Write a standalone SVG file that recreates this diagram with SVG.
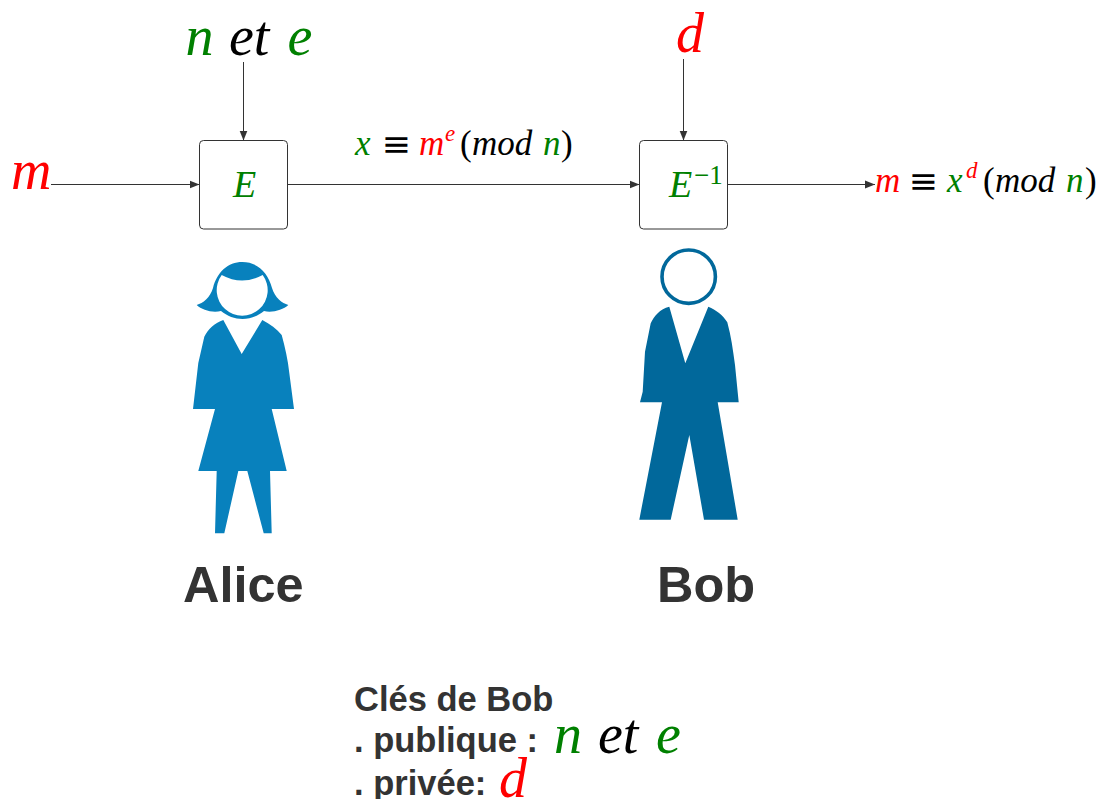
<svg xmlns="http://www.w3.org/2000/svg" width="1103" height="799" viewBox="0 0 1103 799">
<style>
.m{font-family:"Liberation Serif","Times New Roman",serif;font-style:italic}
.u{font-family:"Liberation Serif","Times New Roman",serif}
.q{font-family:"DejaVu Sans",sans-serif;fill:#000}
.r{fill:#ff0000}.g{fill:#008000}.k{fill:#000}
.b{font-family:"Liberation Sans",Arial,sans-serif;font-weight:700;fill:#333}
.box{fill:#fff;stroke:#333;stroke-width:1}
.c{fill:none;stroke:#333;stroke-width:1}
</style>
<defs><marker id="a" markerUnits="userSpaceOnUse" markerWidth="11" markerHeight="10" refX="10" refY="4.500" orient="auto"><path d="M0 0.500L10 4.500L0 8.500Z" fill="#333"/></marker></defs>
<rect width="1103" height="799" fill="#fff"/>
<g id="connectors">
<path class="c" d="M51 184.500H199.500" marker-end="url(#a)"/>
<path class="c" d="M243.500 62V140.500" marker-end="url(#a)"/>
<path class="c" d="M287.500 184.500H639.500" marker-end="url(#a)"/>
<path class="c" d="M683.500 59V140.500" marker-end="url(#a)"/>
<path class="c" d="M727.500 184.500H875" marker-end="url(#a)"/>
</g>
<g id="node-E"><rect class="box" x="199.500" y="140.500" width="88" height="88.500" rx="4"/><text class="m g" x="233" y="197" font-size="38">E</text></g>
<g id="node-Einv"><rect class="box" x="639.500" y="140.500" width="88" height="88.500" rx="4"/><text class="m g" x="669" y="197" font-size="38">E</text><text class="u g" x="694" y="184" font-size="27">−1</text></g>
<g id="label-m"><text class="m r" x="11" y="189" font-size="56">m</text></g>
<g id="label-pub"><text class="m g" x="185.500" y="55" font-size="56">n</text><text class="m k" x="229" y="55" font-size="56">et</text><text class="m g" x="287.500" y="55" font-size="56">e</text></g>
<g id="label-d"><text class="m r" x="676" y="52" font-size="56">d</text></g>
<g id="label-x"><text class="m g" x="355" y="155" font-size="35">x</text><text class="q" x="381.500" y="156" font-size="35">≡</text><text class="m r" x="419" y="155" font-size="35">m</text><text class="m r" x="445" y="141" font-size="23">e</text><text class="u k" x="460" y="155" font-size="35">(</text><text class="m k" x="472" y="155" font-size="35">mod</text><text class="m g" x="543" y="155" font-size="35">n</text><text class="u k" x="561" y="155" font-size="35">)</text></g>
<g id="label-m2"><text class="m r" x="875" y="192" font-size="35">m</text><text class="q" x="908.500" y="192.500" font-size="35">≡</text><text class="m g" x="947" y="192" font-size="35">x</text><text class="m r" x="966" y="178" font-size="23">d</text><text class="u k" x="983" y="192" font-size="35">(</text><text class="m k" x="995" y="192" font-size="35">mod</text><text class="m g" x="1066" y="192" font-size="35">n</text><text class="u k" x="1085" y="192" font-size="35">)</text></g>
<g id="alice">
<path fill="#0881bd" d="M196.700 305C203 303 210 298 213 288C217 272 228 262 242.300 262C257 262 268 272 272 288C275 298 282 303 288.300 305C283 310 272 313 264 311C258 316 250 319 242.500 319C235 319 227 316 221 311C212 313 202 310 196.700 305Z"/>
<path fill="#fff" d="M221.700 275Q242 286 262.700 275A25.500 25.500 0 1 1 221.700 275Z"/>
<path fill="#0881bd" d="M223.300 320L241.700 354L262.300 320C270 324 277 329 281.700 335C285 347 288 360 289.300 373L294 409H271.700L286.700 471H270L271.700 533.300H263.700L247.300 471H238.300L224.300 533.300H215L216.700 471H198.300L215 409H193L198.300 363L204.300 336.700C208 329 215 323 223.300 320Z"/>
</g>
<g id="bob">
<circle cx="688.700" cy="276.700" r="26.700" fill="#fff" stroke="#01689b" stroke-width="3.600"/>
<path fill="#01689b" d="M669.300 306.700L685.300 363.300L708.300 306.700C716 310 723 315 727.300 322.300C731 336 733 350 735 365L738.700 402.300H717.700L737.700 519.700H704L689.300 435L670.700 519.700H639.300L662 402.300H640L642.700 391.700L645 351.700L650.700 323.300C654 316 660 309 669.300 306.700Z"/>
</g>
<g id="names"><text class="b" x="183" y="602" font-size="50.500">Alice</text><text class="b" x="657" y="602" font-size="50.500">Bob</text></g>
<g id="keys">
<text class="b" x="354" y="711" font-size="34.500">Clés de Bob</text>
<text class="b" x="354" y="752" font-size="34.500">. publique :</text>
<text class="b" x="354" y="795" font-size="34.500">. privée:</text>
<text class="m g" x="554" y="753" font-size="56">n</text><text class="m k" x="598" y="753" font-size="56">et</text><text class="m g" x="656" y="753" font-size="56">e</text>
<text class="m r" x="499" y="797" font-size="56">d</text>
</g>
</svg>
